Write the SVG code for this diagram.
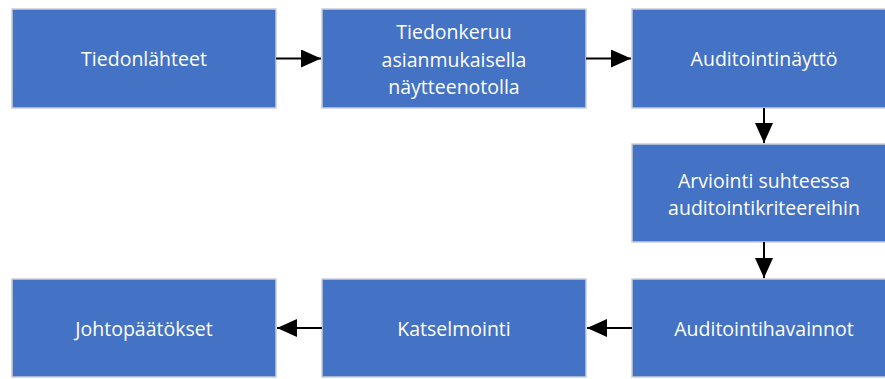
<svg xmlns="http://www.w3.org/2000/svg" width="885" height="379" viewBox="0 0 885 379">
<style>
.box{fill:#4472C4;stroke:#C9CED6;stroke-width:1.5}
.t{fill:#FFFFFF;font-family:"Open Sans","Noto Sans",sans-serif;font-size:19.5px;text-anchor:middle;dominant-baseline:central}
.c{stroke:#000;stroke-width:2;fill:none;marker-end:url(#ah)}
</style>
<defs>
<marker id="ah" markerWidth="10" markerHeight="9" refX="10" refY="4.5" orient="auto" markerUnits="strokeWidth">
<path d="M0,0 L10,4.5 L0,9 Z" fill="#000"/>
</marker>
</defs>
<rect width="885" height="379" fill="#fff"/>
<g id="n1"><rect class="box" x="12" y="9" width="264" height="99"/><text class="t" x="144" y="58.5">Tiedonlähteet</text></g>
<g id="n2"><rect class="box" x="322" y="9" width="264" height="99"/><text class="t" x="454" y="58.5"><tspan x="454" y="31">Tiedonkeruu</tspan><tspan x="454" y="58.5">asianmukaisella</tspan><tspan x="454" y="86">näytteenotolla</tspan></text></g>
<g id="n3"><rect class="box" x="632" y="9" width="264" height="99"/><text class="t" x="764" y="58.5">Auditointinäyttö</text></g>
<g id="n4"><rect class="box" x="632" y="144" width="264" height="98"/><text class="t" x="764" y="193"><tspan x="764" y="180">Arviointi suhteessa</tspan><tspan x="764" y="207">auditointikriteereihin</tspan></text></g>
<g id="n5"><rect class="box" x="632" y="279" width="264" height="98"/><text class="t" x="764" y="328">Auditointihavainnot</text></g>
<g id="n6"><rect class="box" x="322" y="279" width="264" height="98"/><text class="t" x="454" y="328">Katselmointi</text></g>
<g id="n7"><rect class="box" x="12" y="279" width="264" height="98"/><text class="t" x="144" y="328">Johtopäätökset</text></g>
<g id="connectors">
<line class="c" x1="276" y1="58.5" x2="321" y2="58.5"/>
<line class="c" x1="586" y1="58.5" x2="631" y2="58.5"/>
<line class="c" x1="764" y1="108" x2="764" y2="143"/>
<line class="c" x1="764" y1="242" x2="764" y2="278"/>
<line class="c" x1="632" y1="328" x2="587" y2="328"/>
<line class="c" x1="322" y1="328" x2="277" y2="328"/>
</g>
</svg>
